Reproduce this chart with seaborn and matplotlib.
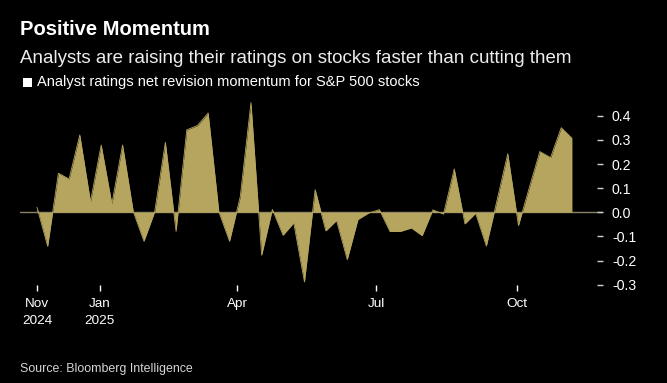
# -*- coding: utf-8 -*-
#
#  Weekly analyst ratings net revision momentum, S&P 500 (Bloomberg style).
#
import pandas as pd
import seaborn as sns
import matplotlib.pyplot as plt
from matplotlib.patches import Rectangle

start_date = '2024-11-21'
momentum = [0.021, -0.141, 0.162, 0.138, 0.321, 0.044, 0.279, 0.035, 0.279, 0.003,
            -0.120, 0.002, 0.290, -0.079, 0.342, 0.360, 0.412, 0.002, -0.120, 0.065,
            0.455, -0.178, 0.012, -0.095, -0.044, -0.289, 0.094, -0.077, -0.034, -0.196,
            -0.030, -0.003, 0.011, -0.080, -0.079, -0.065, -0.097, 0.010, -0.007, 0.180,
            -0.048, -0.004, -0.140, 0.050, 0.243, -0.055, 0.100, 0.252, 0.227, 0.351,
            0.307]

tick_dates = [start_date, '2025-01-01', '2025-04-01', '2025-07-01', '2025-10-01']
tick_labels = ['Nov\n2024', 'Jan\n2025', 'Apr', 'Jul', 'Oct']
y_ticks = [-0.3, -0.2, -0.1, 0.0, 0.1, 0.2, 0.3, 0.4]

title = 'Positive Momentum'
subtitle = 'Analysts are raising their ratings on stocks faster than cutting them'
series_name = 'Analyst ratings net revision momentum for S&P 500 stocks'
source = 'Source: Bloomberg Intelligence'

fill_color = '#b5a55e'

df = pd.DataFrame({'date': pd.date_range(start_date, periods=len(momentum), freq='7D'),
                   'value': momentum})

sns.set_style('dark')
plt.rcParams['font.family'] = ['Liberation Sans', 'DejaVu Sans']

fig = plt.figure(figsize=(6.67, 3.83), dpi=100, facecolor='black')
ax = fig.add_axes([0.030, 0.2569, 0.874, 0.4846])
ax.set_facecolor('black')

ax.fill_between(df['date'], df['value'], 0, color=fill_color, linewidth=0)
sns.lineplot(data=df, x='date', y='value', ax=ax, color=fill_color, linewidth=0.6)
ax.axhline(0, color='#8a8266', linewidth=1.0, zorder=0)

jan1 = pd.Timestamp('2025-01-01')
ax.set_xlim(jan1 - pd.Timedelta(days=52.1), jan1 + pd.Timedelta(days=329.3))
ax.set_ylim(-0.3, 0.47)

ax.set_xticks(pd.to_datetime(tick_dates))
ax.set_xticklabels(tick_labels, linespacing=1.45)
ax.set_yticks(y_ticks)
ax.set_yticklabels(['%.1f' % v for v in y_ticks])
ax.yaxis.tick_right()

ax.tick_params(axis='x', colors='white', labelsize=9.7, length=4, width=1,
               direction='out', pad=6, bottom=True)
ax.tick_params(axis='y', colors='#d0d0d0', labelcolor='white', labelsize=10.2,
               length=4, width=1, direction='in', pad=6.5, right=True, left=False)
for lab in ax.get_yticklabels():
    lab.set_horizontalalignment('left')

ax.grid(False)
for s in ax.spines.values():
    s.set_visible(False)
ax.set_xlabel('')
ax.set_ylabel('')

fig.text(0.0306, 0.9086, title, color='white', fontsize=14.5, fontweight='bold')
fig.text(0.0306, 0.8363, subtitle, color='#ececec', fontsize=13.5)
fig.patches.append(Rectangle((22.5 / 667, 1 - 87 / 383), 9.5 / 667, 9.5 / 383,
                             transform=fig.transFigure, facecolor='white',
                             edgecolor='none'))
fig.text(0.056, 0.7755, series_name, color='white', fontsize=10.5)
fig.text(0.0300, 0.0296, source, color='#d5d5d5', fontsize=8.9)

fig.savefig('out.png', dpi=100, facecolor='black')
